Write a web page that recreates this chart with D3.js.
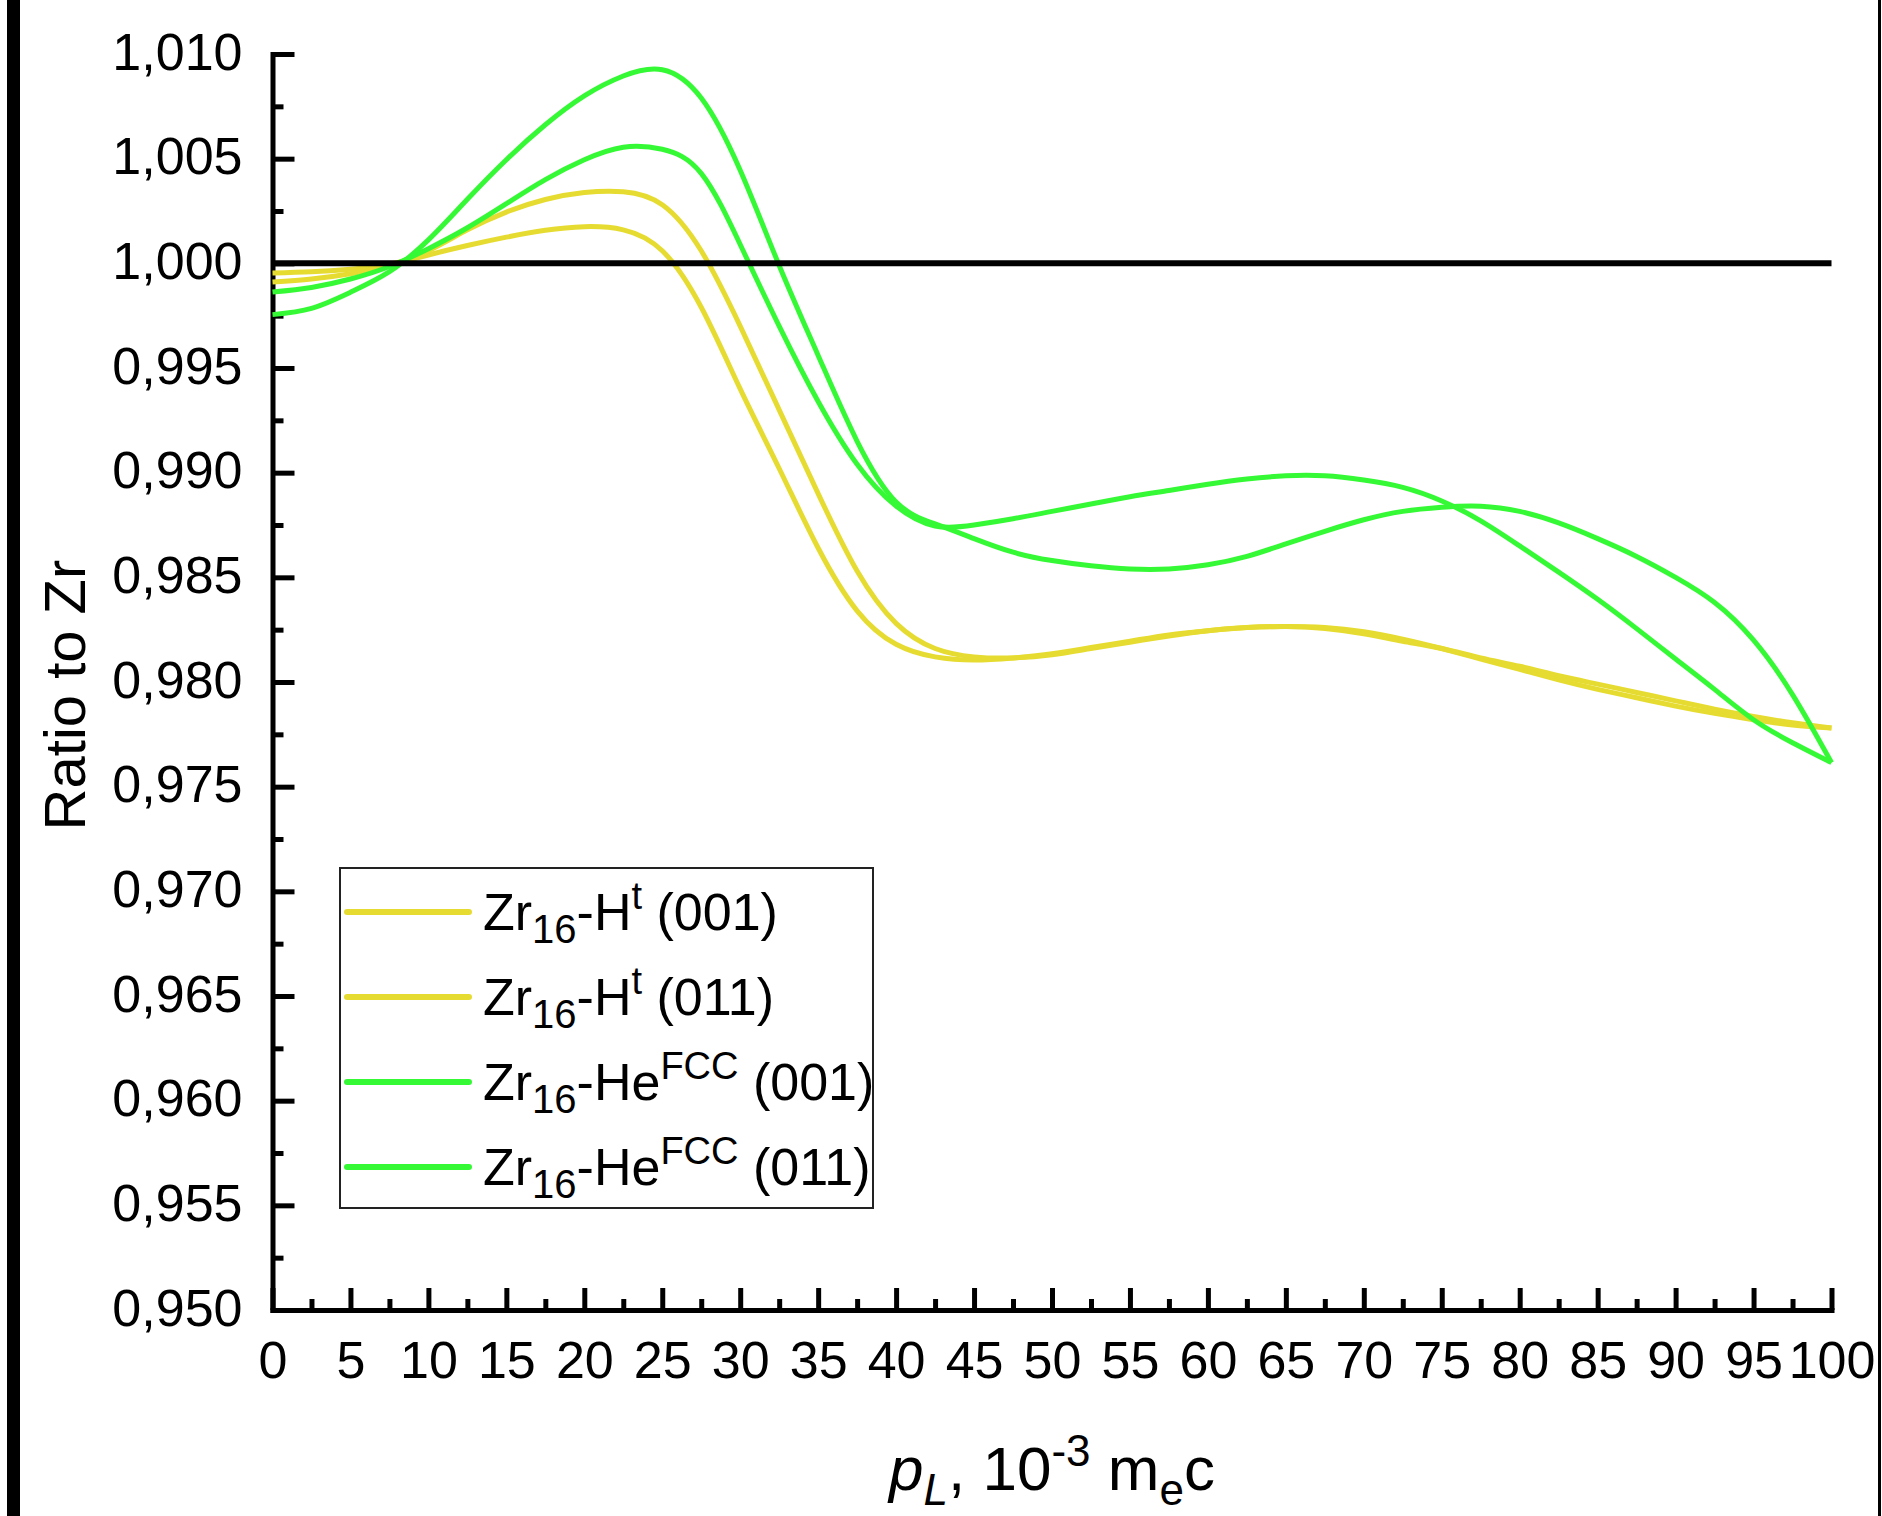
<!DOCTYPE html>
<html>
<head>
<meta charset="utf-8">
<script src="https://cdn.jsdelivr.net/npm/d3@7"></script>
<style>
  body { margin: 0; background: #fff; }
  svg text { font-family: Arial, "Liberation Sans", sans-serif; fill: #000; }
</style>
</head>
<body>
<svg id="chart"></svg>
<script>
// momentum axis, 10^-3 m_e c
var pL = [0, 2.5, 5, 7.5, 10, 12.5, 15, 17.5, 20, 22.5, 25, 27.5, 30, 32.5, 35, 37.5, 40, 42.5, 45, 47.5,
          50, 52.5, 55, 57.5, 60, 62.5, 65, 67.5, 70, 72.5, 75, 77.5, 80, 82.5, 85, 87.5, 90, 92.5, 95, 97.5, 100];

// Zr16-H^t (001)
var hT001 = [0.99954, 0.99960, 0.99972, 0.99995, 1.00040, 1.00085, 1.00125, 1.00158, 1.00175, 1.00160,
             1.00060, 0.99790, 0.99400, 0.99020, 0.98640, 0.98340, 0.98180, 0.98120, 0.98105, 0.98115,
             0.98135, 0.98165, 0.98195, 0.98225, 0.98245, 0.98260, 0.98265, 0.98260, 0.98240, 0.98205,
             0.98160, 0.98110, 0.98060, 0.98010, 0.97965, 0.97925, 0.97885, 0.97850, 0.97820, 0.97795, 0.97780];
// Zr16-H^t (011)
var hT011 = [0.99911, 0.99925, 0.99950, 0.99990, 1.00060, 1.00160, 1.00245, 1.00305, 1.00338, 1.00342,
             1.00280, 1.00060, 0.99700, 0.99300, 0.98900, 0.98530, 0.98280, 0.98160, 0.98120, 0.98115,
             0.98130, 0.98160, 0.98190, 0.98220, 0.98245, 0.98260, 0.98265, 0.98255, 0.98230, 0.98195,
             0.98160, 0.98115, 0.98075, 0.98030, 0.97990, 0.97950, 0.97910, 0.97870, 0.97835, 0.97805, 0.97780];
// Zr16-He^FCC (001)
var heF001 = [0.99863, 0.99885, 0.99925, 0.99985, 1.00070, 1.00170, 1.00285, 1.00400, 1.00495, 1.00555,
              1.00545, 1.00430, 1.00090, 0.99700, 0.99340, 0.99040, 0.98840, 0.98745, 0.98750, 0.98780,
              0.98815, 0.98850, 0.98885, 0.98915, 0.98945, 0.98970, 0.98985, 0.98985, 0.98965, 0.98930,
              0.98865, 0.98770, 0.98650, 0.98525, 0.98395, 0.98255, 0.98110, 0.97965, 0.97820, 0.97710, 0.97615];
// Zr16-He^FCC (011)
var heF011 = [0.99755, 0.99785, 0.99862, 0.99960, 1.00112, 1.00306, 1.00495, 1.00662, 1.00800, 1.00895,
              1.00925, 1.00790, 1.00445, 0.99990, 0.99560, 0.99150, 0.98860, 0.98755, 0.98685, 0.98620,
              0.98580, 0.98555, 0.98540, 0.98540, 0.98560, 0.98600, 0.98660, 0.98720, 0.98775, 0.98815,
              0.98835, 0.98840, 0.98815, 0.98760, 0.98685, 0.98600, 0.98500, 0.98380, 0.98200, 0.97940, 0.97615];

var seriesValues = [hT001, hT011, heF001, heF011];
var seriesColours = ["#e6dc31", "#e6dc31", "#36f936", "#36f936"];
var legendMain = ["Zr", "Zr", "Zr", "Zr"];
var legendSub = ["16", "16", "16", "16"];
var legendElem = ["-H", "-H", "-He", "-He"];
var legendSup = ["t", "t", "FCC", "FCC"];
var legendPlane = [" (001)", " (011)", " (001)", " (011)"];

var xTicks = [0, 5, 10, 15, 20, 25, 30, 35, 40, 45, 50, 55, 60, 65, 70, 75, 80, 85, 90, 95, 100];
var yTicks = [0.950, 0.955, 0.960, 0.965, 0.970, 0.975, 0.980, 0.985, 0.990, 0.995, 1.000, 1.005, 1.010];

var width = 1882,
    height = 1516,
    fontSize = 52;

var svg = d3.select("#chart")
    .attr("width", width)
    .attr("height", height);

var x = d3.scaleLinear().domain([0, 100]).range([272.5, 1831.5]);
var y = d3.scaleLinear().domain([0.95, 1.01]).range([1310, 54]);

// page edges
svg.append("rect").attr("x", 7).attr("y", 0).attr("width", 13).attr("height", height).attr("fill", "#000");
svg.append("rect").attr("x", 1878).attr("y", 0).attr("width", 3).attr("height", height).attr("fill", "#000");

// minor ticks (inside)
var xMinor = xTicks.slice(0, -1).map(function(t) { return t + 2.5; });
var yMinor = yTicks.slice(0, -1).map(function(t) { return t + 0.0025; });

svg.append("g").attr("transform", "translate(0," + y(0.95) + ")")
    .call(d3.axisBottom(x).tickValues(xMinor).tickSize(-11).tickFormat(""))
    .call(function(g) { g.select(".domain").remove(); })
    .selectAll("line").attr("stroke", "#000").attr("stroke-width", 5);

svg.append("g").attr("transform", "translate(" + x(0) + ",0)")
    .call(d3.axisLeft(y).tickValues(yMinor).tickSize(-11).tickFormat(""))
    .call(function(g) { g.select(".domain").remove(); })
    .selectAll("line").attr("stroke", "#000").attr("stroke-width", 5);

// major axes
var xAxis = svg.append("g").attr("transform", "translate(0," + y(0.95) + ")")
    .call(d3.axisBottom(x).tickValues(xTicks).tickSizeInner(-22).tickSizeOuter(0).tickPadding(0)
        .tickFormat(d3.format("d")));

var yAxis = svg.append("g").attr("transform", "translate(" + x(0) + ",0)")
    .call(d3.axisLeft(y).tickValues(yTicks).tickSizeInner(-22).tickSizeOuter(0)
        .tickFormat(function(d) { return d3.format(".3f")(d).replace(".", ","); }));

[xAxis, yAxis].forEach(function(ax) {
    ax.select(".domain").attr("stroke", "#000").attr("stroke-width", 5).attr("stroke-linecap", "square");
    ax.selectAll(".tick line").attr("stroke", "#000").attr("stroke-width", 5);
    ax.selectAll(".tick text").attr("font-size", fontSize).attr("fill", "#000")
        .style("font-family", "Arial, 'Liberation Sans', sans-serif");
});

xAxis.selectAll(".tick text").attr("y", 68).attr("dy", null);
yAxis.selectAll(".tick text").attr("x", -30).attr("dy", 15).attr("text-anchor", "end");

// curves
var line = d3.line()
    .x(function(d) { return x(d[0]); })
    .y(function(d) { return y(d[1]); })
    .curve(d3.curveNatural);

svg.append("g").selectAll("path")
    .data(seriesValues)
    .enter()
    .append("path")
    .attr("d", function(vals) { return line(vals.map(function(v, i) { return [pL[i], v]; })); })
    .attr("fill", "none")
    .attr("stroke", function(d, i) { return seriesColours[i]; })
    .attr("stroke-width", 5)
    .attr("stroke-linejoin", "round");

// reference line at 1
svg.append("line")
    .attr("x1", x(0)).attr("x2", x(100))
    .attr("y1", y(1)).attr("y2", y(1))
    .attr("stroke", "#000")
    .attr("stroke-width", 6);

// legend
var legend = svg.append("g");
legend.append("rect")
    .attr("x", 340).attr("y", 868).attr("width", 533).attr("height", 340)
    .attr("fill", "#fff").attr("stroke", "#222").attr("stroke-width", 2);

var rows = legend.selectAll("g.row")
    .data(seriesColours)
    .enter()
    .append("g")
    .attr("class", "row")
    .attr("transform", function(d, i) { return "translate(0," + (912 + i * 85) + ")"; });

rows.append("line")
    .attr("x1", 347).attr("x2", 469)
    .attr("stroke", function(d) { return d; })
    .attr("stroke-width", 6)
    .attr("stroke-linecap", "round");

var label = rows.append("text")
    .attr("x", 483)
    .attr("y", 18)
    .attr("font-size", fontSize);
label.append("tspan").text(function(d, i) { return legendMain[i]; });
label.append("tspan").attr("font-size", 40).attr("dy", 13).text(function(d, i) { return legendSub[i]; });
label.append("tspan").attr("dy", -13).text(function(d, i) { return legendElem[i]; });
label.append("tspan").attr("font-size", 38).attr("dy", -21).text(function(d, i) { return legendSup[i]; });
label.append("tspan").attr("dy", 21).text(function(d, i) { return legendPlane[i]; });

// axis titles
var xTitle = svg.append("text")
    .attr("x", (x(0) + x(100)) / 2)
    .attr("y", 1490)
    .attr("text-anchor", "middle")
    .attr("font-size", 62);
xTitle.append("tspan").attr("font-style", "italic").text("p");
xTitle.append("tspan").attr("font-style", "italic").attr("font-size", 44).attr("dy", 15).text("L");
xTitle.append("tspan").attr("dy", -15).text(", 10");
xTitle.append("tspan").attr("font-size", 44).attr("dy", -24).text("-3");
xTitle.append("tspan").attr("dy", 24).text(" m");
xTitle.append("tspan").attr("font-size", 44).attr("dy", 15).text("e");
xTitle.append("tspan").attr("dy", -15).text("c");

svg.append("text")
    .attr("transform", "translate(85,695) rotate(-90)")
    .attr("text-anchor", "middle")
    .attr("font-size", 58)
    .text("Ratio to Zr");
</script>
</body>
</html>
